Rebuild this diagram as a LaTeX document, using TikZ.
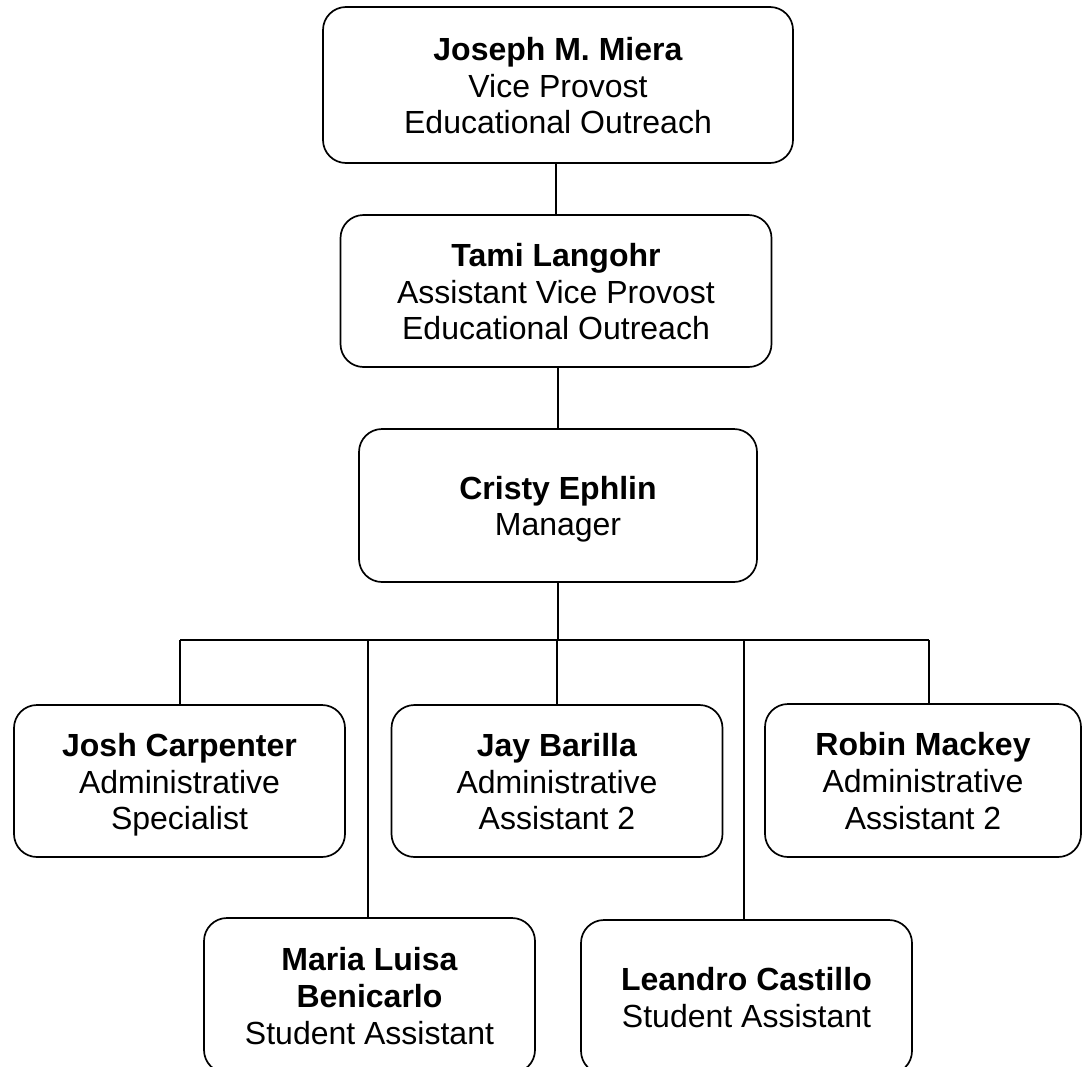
\documentclass[tikz,border=0pt]{standalone}
\usepackage{fontspec}
\setmainfont{Liberation Sans}
\newcommand\mytop{\rule{0pt}{32pt}}
\newcommand\mybot{\rule[-8pt]{0pt}{8pt}}
\begin{document}
\begin{tikzpicture}[x=1pt,y=-1pt,
  person/.style={draw=black, line width=1.7pt, rounded corners=23pt, align=center,
    inner sep=0pt, font=\fontsize{32}{36.8}\selectfont},
  link/.style={draw=black, line width=1.7pt}]
\useasboundingbox (0,0) rectangle (1082,1066);
\node[person, minimum width=470pt, minimum height=156pt] (joseph) at (558,85)
  {\mytop\textbf{Joseph M. Miera}\\Vice Provost\\Educational Outreach\mybot};
\node[person, minimum width=431pt, minimum height=152pt] (tami) at (556,291)
  {\mytop\textbf{Tami Langohr}\\Assistant Vice Provost\\Educational Outreach\mybot};
\node[person, minimum width=398pt, minimum height=153pt] (cristy) at (558,505.5)
  {\mytop\textbf{Cristy Ephlin}\\Manager\mybot};
\node[person, minimum width=331pt, minimum height=152pt] (josh) at (179.5,781)
  {\mytop\textbf{Josh Carpenter}\\Administrative\\Specialist\mybot};
\node[person, minimum width=331pt, minimum height=152pt] (jay) at (557,781)
  {\mytop\textbf{Jay Barilla}\\Administrative\\Assistant 2\mybot};
\node[person, minimum width=316pt, minimum height=153pt] (robin) at (923,780.5)
  {\mytop\textbf{Robin Mackey}\\Administrative\\Assistant 2\mybot};
\node[person, minimum width=331pt, minimum height=155pt] (maria) at (369.5,995.5)
  {\mytop\textbf{Maria Luisa}\\\textbf{Benicarlo}\\Student Assistant\mybot};
\node[person, minimum width=331pt, minimum height=154pt] (leandro) at (746.5,997)
  {\mytop\textbf{Leandro Castillo}\\Student Assistant\mybot};
\coordinate (busL) at (180,640);
\coordinate (busR) at (929,640);
\coordinate (mariaTap) at (368,640);
\coordinate (leandroTap) at (744,640);
\draw[link] (tami.north |- joseph.south) -- (tami.north);
\draw[link] (cristy.north |- tami.south) -- (cristy.north);
\draw[link] (cristy.south) -- (cristy.south |- busL);
\draw[link] (busL) -- (busR);
\draw[link] (busL) -- (busL |- josh.north);
\draw[link] (jay.north |- busL) -- (jay.north);
\draw[link] (busR) -- (busR |- robin.north);
\draw[link] (mariaTap) -- (mariaTap |- maria.north);
\draw[link] (leandroTap) -- (leandroTap |- leandro.north);
\end{tikzpicture}
\end{document}
